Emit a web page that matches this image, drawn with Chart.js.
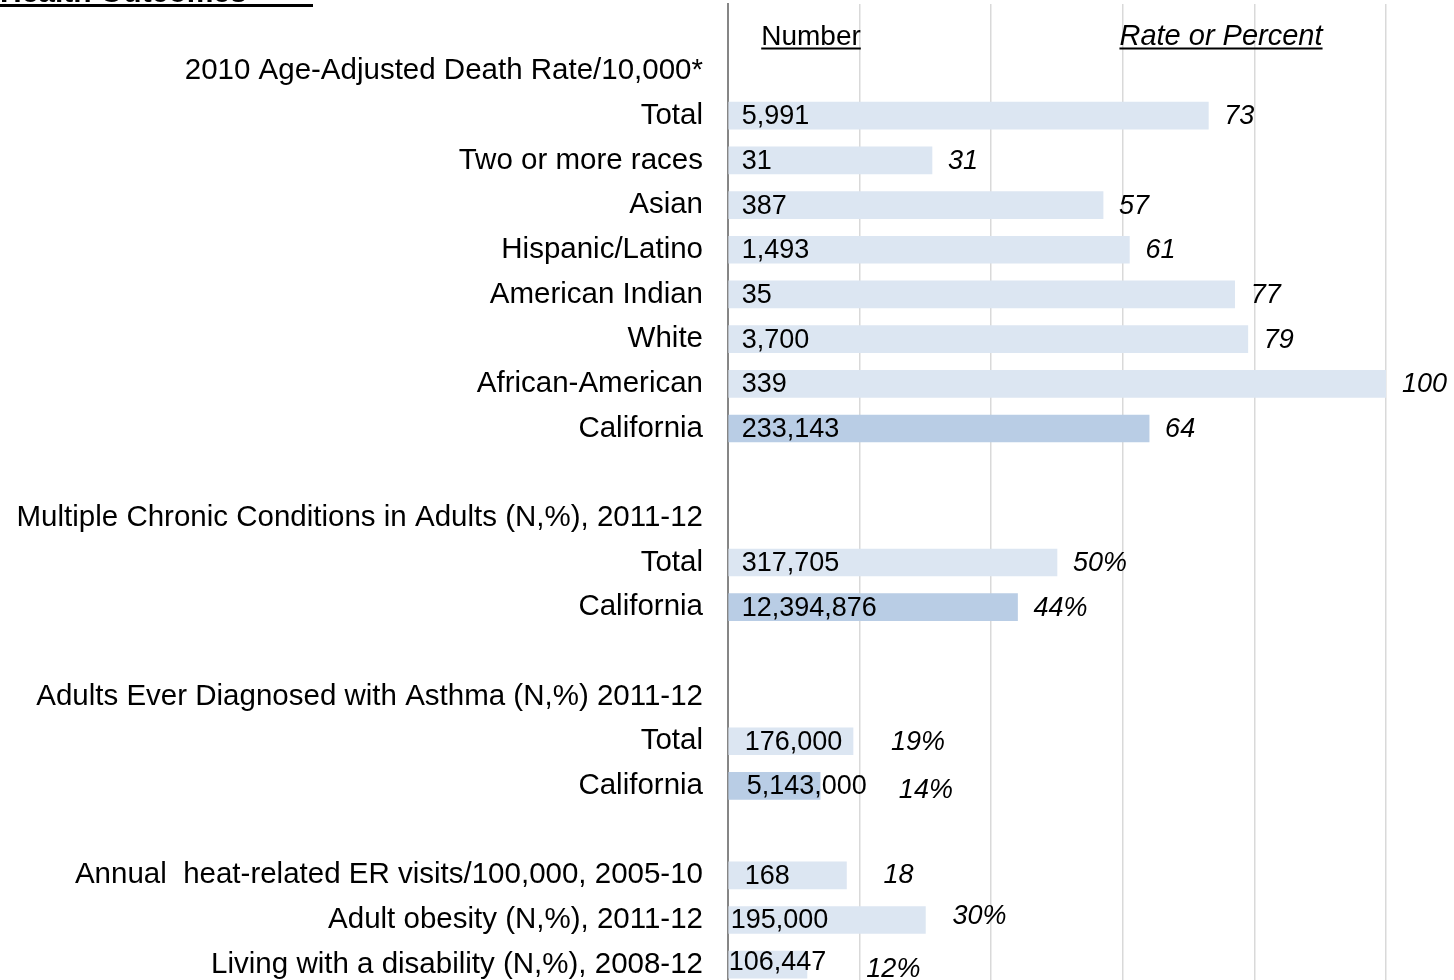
<!DOCTYPE html>
<html>
<head>
<meta charset="utf-8">
<script src="https://cdn.jsdelivr.net/npm/chart.js@4"></script>
<style>
  html, body { margin: 0; padding: 0; background: #fff; overflow: hidden; }
</style>
</head>
<body>
<canvas id="outcomesChart" width="1454" height="990"></canvas>
<script>
// row labels, top to bottom (blank rows are spacers / section headers)
const rowLabels = [
    '',
    '2010 Age-Adjusted Death Rate/10,000*',
    'Total',
    'Two or more races',
    'Asian',
    'Hispanic/Latino',
    'American Indian',
    'White',
    'African-American',
    'California',
    '',
    'Multiple Chronic Conditions in Adults (N,%), 2011-12',
    'Total',
    'California',
    '',
    'Adults Ever Diagnosed with Asthma (N,%) 2011-12',
    'Total',
    'California',
    '',
    'Annual  heat-related ER visits/100,000, 2005-10',
    'Adult obesity (N,%), 2011-12',
    'Living with a disability (N,%), 2008-12'
];

// bar length = rate or percent
const rates = [null, null, 73, 31, 57, 61, 77, 79, 100, 64, null, null, 50, 44, null, null, 19, 14, null, 18, 30, 12];

// counts shown inside the bars
const counts = [null, null, 5991, 31, 387, 1493, 35, 3700, 339, 233143, null, null, 317705, 12394876, null, null, 176000, 5143000, null, 168, 195000, 106447];

// which rates are percentages
const isPercent = [false, false, false, false, false, false, false, false, false, false, false, false, true, true, false, false, true, true, false, false, true, true];

// California comparison rows get the darker bar
const isCalifornia = rowLabels.map(l => l === 'California');

const LIGHT = '#dce6f2';
const DARK = '#b9cde5';
const FONT = '"Liberation Sans", Arial, sans-serif';

// labels the original had moved by hand: [dx, dy] in px
const numNudge = { 16: [3, 0], 17: [5, 0], 19: [3, 0], 20: [-11, 0], 21: [-13, -3] };
const rateNudge = { 16: [22, 0], 17: [16, 4], 19: [21, -1], 20: [11, -4], 21: [24, 4] };

const barLabels = {
    id: 'barLabels',
    afterDatasetsDraw(chart) {
        const ctx = chart.ctx;
        const meta = chart.getDatasetMeta(0);
        ctx.save();
        ctx.fillStyle = '#000';
        ctx.textBaseline = 'middle';
        meta.data.forEach((bar, i) => {
            if (rates[i] == null) return;
            // number inside bar
            const nn = numNudge[i] || [0, 0];
            ctx.font = '27px ' + FONT;
            ctx.textAlign = 'left';
            const numText = counts[i].toLocaleString('en-US');
            const nx = bar.base + 13 + nn[0];
            ctx.fillText(numText, nx, bar.y + 1 + nn[1]);
            const numEnd = nx + ctx.measureText(numText).width;

            // rate to the right, italic
            const rn = rateNudge[i] || [0, 0];
            ctx.font = 'italic 27px ' + FONT;
            const rx = Math.max(bar.x, numEnd) + 16 + rn[0];
            ctx.fillText(rates[i] + (isPercent[i] ? '%' : ''), rx, bar.y + 1 + rn[1]);
        });
        ctx.restore();
    }
};

const headers = {
    id: 'headers',
    afterDraw(chart) {
        const ctx = chart.ctx;
        ctx.save();
        ctx.fillStyle = '#000';
        ctx.strokeStyle = '#000';
        ctx.textBaseline = 'alphabetic';
        ctx.textAlign = 'center';

        const underline = (text, cx, y, font, lw) => {
            ctx.font = font;
            ctx.fillText(text, cx, y);
            const w = ctx.measureText(text).width;
            ctx.lineWidth = lw;
            ctx.beginPath();
            ctx.moveTo(cx - w / 2, y + 3.5);
            ctx.lineTo(cx + w / 2, y + 3.5);
            ctx.stroke();
        };
        underline('Number', 811, 45, '28px ' + FONT, 2);
        underline('Rate or Percent', 1221, 45, 'italic 29px ' + FONT, 2);

        // page title, cut off at the top edge
        ctx.textAlign = 'left';
        ctx.font = 'bold 30px ' + FONT;
        ctx.fillText('Health Outcomes', 0, 2);
        ctx.lineWidth = 3;
        ctx.beginPath();
        ctx.moveTo(0, 5.5);
        ctx.lineTo(313, 5.5);
        ctx.stroke();
        ctx.restore();
    }
};

new Chart(document.getElementById('outcomesChart'), {
    type: 'bar',
    data: {
        labels: rowLabels,
        datasets: [{
            data: rates,
            backgroundColor: isCalifornia.map(c => c ? DARK : LIGHT),
            borderWidth: 0,
            barThickness: 27,
        }]
    },
    options: {
        indexAxis: 'y',
        responsive: false,
        animation: false,
        layout: { padding: { top: 4, right: 68, bottom: 3, left: 0 } },
        plugins: {
            legend: { display: false },
            tooltip: { enabled: false }
        },
        scales: {
            x: {
                min: 0,
                max: 100,
                ticks: { display: false, stepSize: 20 },
                grid: { color: '#d9d9d9', lineWidth: 1.5, drawTicks: false },
                border: { display: false },
                afterFit: (scale) => {
                    scale.height = 0;
                    scale.paddingLeft = scale.paddingRight = 0;
                }
            },
            y: {
                grid: { display: false, drawTicks: false },
                border: { color: '#868686', width: 2 },
                ticks: {
                    color: '#000',
                    font: { family: FONT, size: 29.5 },
                    padding: 25,
                    autoSkip: false
                },
                afterFit: (scale) => {
                    scale.width = 728;
                    scale.paddingTop = scale.paddingBottom = 0;
                }
            }
        }
    },
    plugins: [barLabels, headers]
});
</script>
</body>
</html>
